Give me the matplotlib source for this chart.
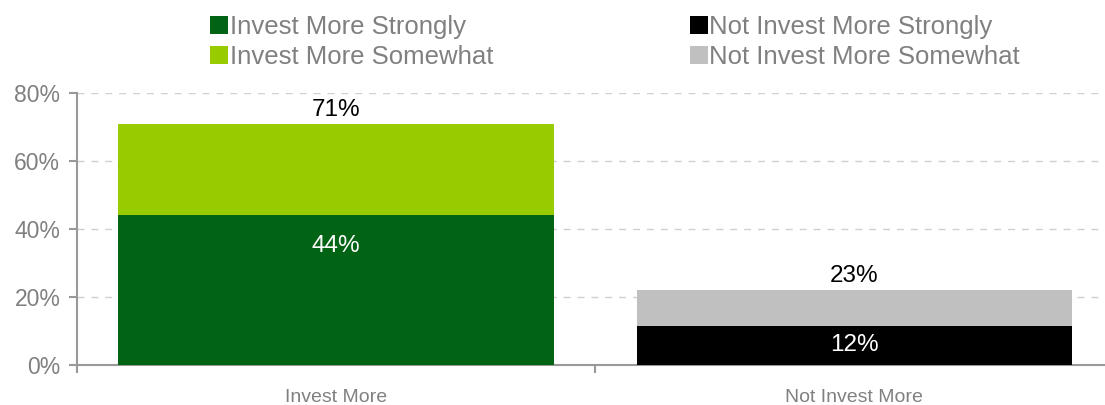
import matplotlib.pyplot as plt
import numpy as np

plt.rcParams['font.family'] = ['Liberation Sans', 'DejaVu Sans']

categories = ['Invest More', 'Not Invest More']
strongly = [44, 11.5]
somewhat = [27, 10.5]
inner_labels = ['44%', '12%']
total_labels = ['71%', '23%']

strong_colors = ['#006414', '#000000']
some_colors = ['#99cc00', '#c0c0c0']
legend_names = ['Invest More Strongly', 'Invest More Somewhat',
                'Not Invest More Strongly', 'Not Invest More Somewhat']

fig = plt.figure(figsize=(11.05, 4.05), dpi=100)
ax = fig.add_axes([0.0697, 0.0988, 0.9303, 0.6716])

x = np.arange(len(categories))
b1 = ax.bar(x, strongly, width=0.84, color=strong_colors, zorder=3)
b2 = ax.bar(x, somewhat, width=0.84, bottom=strongly, color=some_colors, zorder=3)

for i in range(len(categories)):
    top = strongly[i] + somewhat[i]
    ax.annotate(total_labels[i], (x[i], top), xytext=(0, 2), textcoords='offset points',
                ha='center', va='bottom', fontsize=17.5, color='black')
    ax.text(x[i], strongly[i] - min(9, strongly[i] / 2), inner_labels[i],
            ha='center', va='center', fontsize=17.5, color='white', zorder=4)

ax.set_xlim(-0.5, 1.484)
ax.set_ylim(0, 80)
ax.set_yticks([0, 20, 40, 60, 80])
ax.set_yticklabels(['0%', '20%', '40%', '60%', '80%'])
ax.set_xticks(x)
ax.set_xticklabels(categories)
ax.set_xticks([-0.5, 0.5], minor=True)
ax.tick_params(axis='x', which='major', length=0, pad=17, labelsize=14, labelcolor='#808080')
ax.tick_params(axis='x', which='minor', length=6, width=1.5, color='#999999', direction='out')
ax.tick_params(axis='y', length=6, width=1.5, color='#999999', labelsize=16.5, labelcolor='#808080', pad=6)

for s in ['top', 'right']:
    ax.spines[s].set_visible(False)
for s in ['left', 'bottom']:
    ax.spines[s].set_color('#999999')
    ax.spines[s].set_linewidth(1.5)

ax.yaxis.grid(True, linestyle=(0, (5, 5)), color='#d0d0d0', linewidth=1, zorder=0)
ax.set_axisbelow(True)

handles = [b1[0], b2[0], b1[1], b2[1]]
leg = fig.legend(handles, legend_names, ncol=2, loc='upper center',
                 bbox_to_anchor=(0.5565, 1.008), frameon=False, fontsize=18.5,
                 handlelength=0.7, handleheight=0.7, handletextpad=0.05,
                 columnspacing=7.65, labelspacing=0.25, borderaxespad=0.3)
for t in leg.get_texts():
    t.set_color('#808080')

fig.savefig('out.png', dpi=100)
